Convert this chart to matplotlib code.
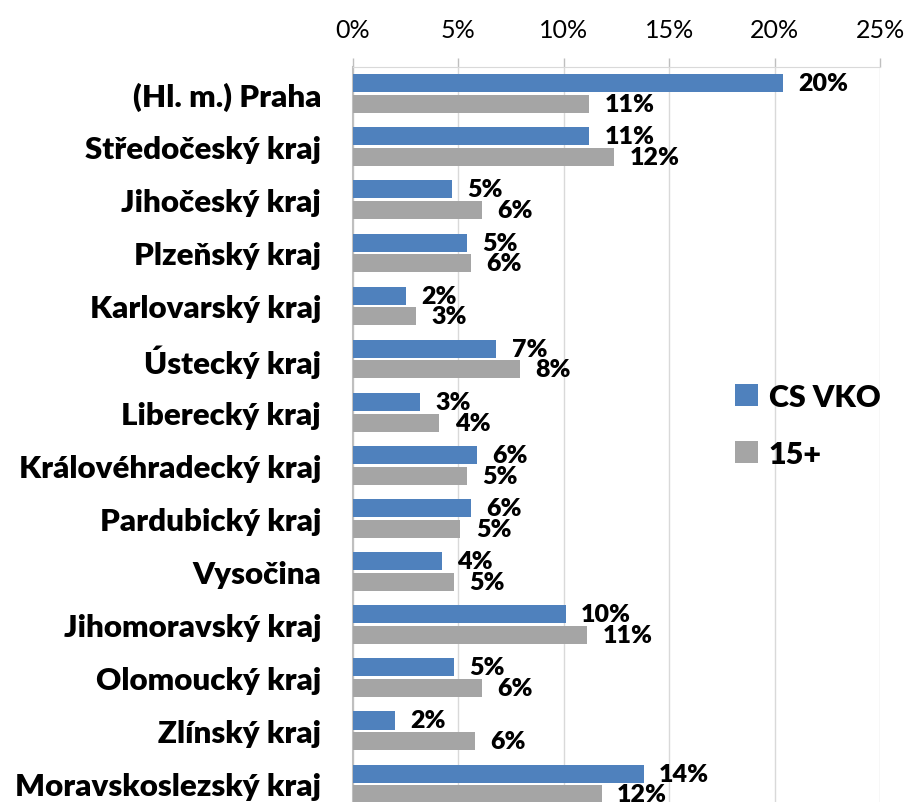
import numpy as np
import matplotlib
matplotlib.use("Agg")
import matplotlib.pyplot as plt
from matplotlib.ticker import PercentFormatter

plt.rcParams['font.family'] = ['Lato', 'DejaVu Sans']

regions = ["(Hl. m.) Praha", "Středočeský kraj", "Jihočeský kraj", "Plzeňský kraj",
           "Karlovarský kraj", "Ústecký kraj", "Liberecký kraj", "Královéhradecký kraj",
           "Pardubický kraj", "Vysočina", "Jihomoravský kraj", "Olomoucký kraj",
           "Zlínský kraj", "Moravskoslezský kraj"]
cs_vko = [20.4, 11.2, 4.7, 5.4, 2.5, 6.8, 3.2, 5.9, 5.6, 4.2, 10.1, 4.8, 2.0, 13.8]
pop15 = [11.2, 12.4, 6.1, 5.6, 3.0, 7.9, 4.1, 5.4, 5.1, 4.8, 11.1, 6.1, 5.8, 11.8]
series_names = ["CS VKO", "15+"]
colors = ["#4F81BD", "#A5A5A5"]

fig = plt.figure(figsize=(9.13, 8.03), dpi=100)
ax = fig.add_axes([0.3866, -0.0106, 0.5773, 0.9259])

y = np.arange(len(regions))
h = 0.34
off = 0.195
for vals, name, col, d in zip([cs_vko, pop15], series_names, colors, [-off, off]):
    bars = ax.barh(y + d, vals, height=h, color=col, label=name, zorder=3)
    for b, v in zip(bars, vals):
        ax.annotate(f"{round(v):.0f}%", (v, b.get_y() + b.get_height() / 2),
                    xytext=(11, 0), textcoords="offset points",
                    va="center", ha="left", fontsize=18, fontweight="heavy")

ax.set_xlim(0, 25)
ax.set_ylim(len(regions) - 0.5, -0.5)
ax.set_xticks(np.arange(0, 26, 5))
ax.xaxis.set_major_formatter(PercentFormatter(decimals=0))
ax.xaxis.tick_top()
ax.tick_params(axis="x", length=6.5, width=1, color="#BFBFBF", labelsize=18, pad=12)
ax.tick_params(axis="y", length=0, labelsize=22.5, pad=23)
ax.set_yticks(y)
ax.set_yticklabels(regions, fontweight="heavy")
ax.grid(axis="x", color="#D9D9D9", linewidth=1, zorder=0)
for s in ["right", "bottom"]:
    ax.spines[s].set_visible(False)
ax.spines["top"].set_color("#D9D9D9")
ax.spines["left"].set_color("#BFBFBF")
ax.spines["left"].set_linewidth(1.5)

ax.legend(loc="upper left", bbox_to_anchor=(0.805, 0.522), bbox_transform=fig.transFigure,
          frameon=False, prop={"size": 22, "weight": "heavy"}, handlelength=0.75,
          handleheight=0.75, handletextpad=0.35, labelspacing=0.95, borderpad=0,
          borderaxespad=0)

fig.savefig("out.png", dpi=100)
